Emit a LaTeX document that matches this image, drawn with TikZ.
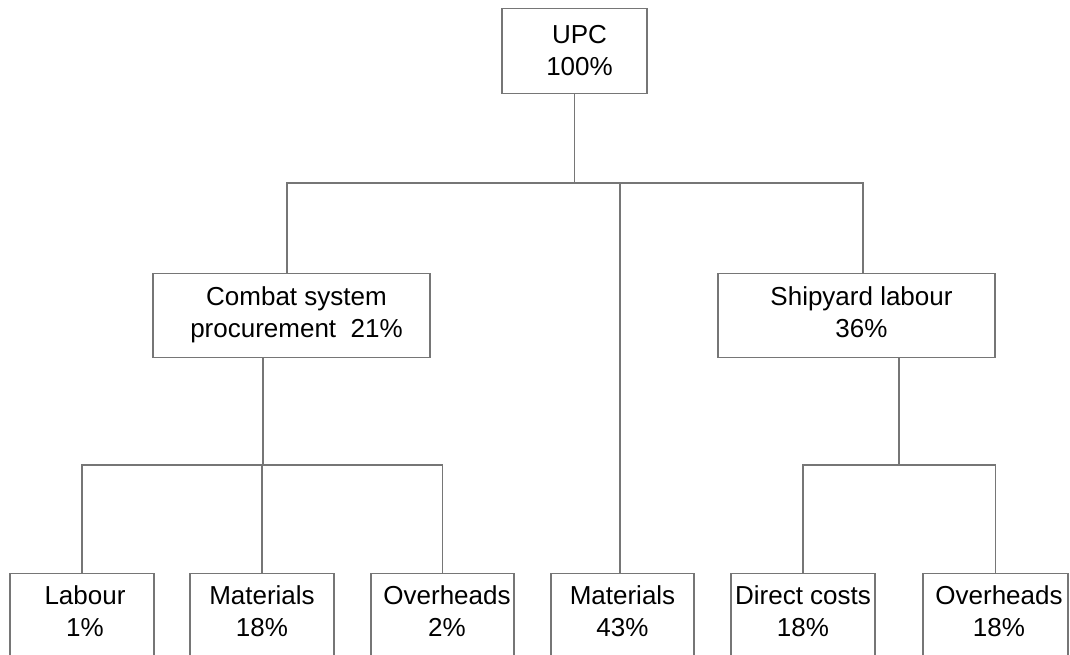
\documentclass[tikz,border=0pt]{standalone}
\usepackage{fontspec}
\setmainfont{Liberation Sans}
\definecolor{linegray}{RGB}{118,118,118}
\newcommand{\padl}[1]{\hspace*{#1pt}}
\newcommand{\tops}[1]{\rule{0pt}{#1pt}}
\newcommand{\bots}[1]{\rule[-#1pt]{0pt}{#1pt}}
\begin{document}
\begin{tikzpicture}[x=1pt,y=-1pt,
  box/.style={draw=linegray, line width=1.2pt, inner sep=0pt, anchor=north,
    align=center, font=\fontsize{26}{32}\selectfont},
  conn/.style={draw=linegray, line width=1.2pt}]
\useasboundingbox (0,0) rectangle (1070,655);
\clip (0,0) rectangle (1070,655);
% level 0
\node[box, minimum width=145pt] (upc) at (574.5,8)
  {\padl{10}\tops{35}UPC\\\padl{10}100\%\bots{18}};
% level 1
\node[box, minimum width=277pt] (combat) at (291.5,273)
  {\padl{10}\tops{32}Combat system\\\padl{10}procurement\ \ 21\%\bots{20}};
\node[box, minimum width=277pt] (shipyard) at (856.5,273)
  {\padl{10}\tops{32}Shipyard labour\\\padl{10}36\%\bots{20}};
% level 2
\node[box, minimum width=144pt] (labour) at (82,573)
  {\padl{6}\tops{31}Labour\\\padl{6}1\%\bots{60}};
\node[box, minimum width=144pt] (mat18) at (262,573)
  {\tops{31}Materials\\18\%\bots{60}};
\node[box, minimum width=143pt] (over1) at (442.5,573)
  {\padl{9}\tops{31}Overheads\\\padl{9}2\%\bots{60}};
\node[box, minimum width=143pt] (mat43) at (622.5,573)
  {\tops{31}Materials\\43\%\bots{60}};
\node[box, minimum width=144pt] (direct) at (803,573)
  {\tops{31}Direct costs\\18\%\bots{60}};
\node[box, minimum width=145pt] (over2) at (995.5,573)
  {\padl{7}\tops{31}Overheads\\\padl{7}18\%\bots{60}};
% connectors
\coordinate (bar1) at (0,183);
\coordinate (bar2) at (0,465);
\draw[conn] (upc.south) -- (upc.south |- bar1);
\draw[conn] ([xshift=-4.5pt]combat.north) |- ([xshift=6.5pt]shipyard.north |- bar1)
  -- ([xshift=6.5pt]shipyard.north);
\draw[conn] ([xshift=-2.5pt]mat43.north) -- ([xshift=-2.5pt]mat43.north |- bar1);
\draw[conn] ([xshift=-28.5pt]combat.south) -- ([xshift=-28.5pt]combat.south |- bar2);
\draw[conn] (labour.north) |- (over1.north |- bar2) -- (over1.north);
\draw[conn] (mat18.north) -- (mat18.north |- bar2);
\draw[conn] ([xshift=42.5pt]shipyard.south) -- ([xshift=42.5pt]shipyard.south |- bar2);
\draw[conn] (direct.north) |- (over2.north |- bar2) -- (over2.north);
\end{tikzpicture}
\end{document}
